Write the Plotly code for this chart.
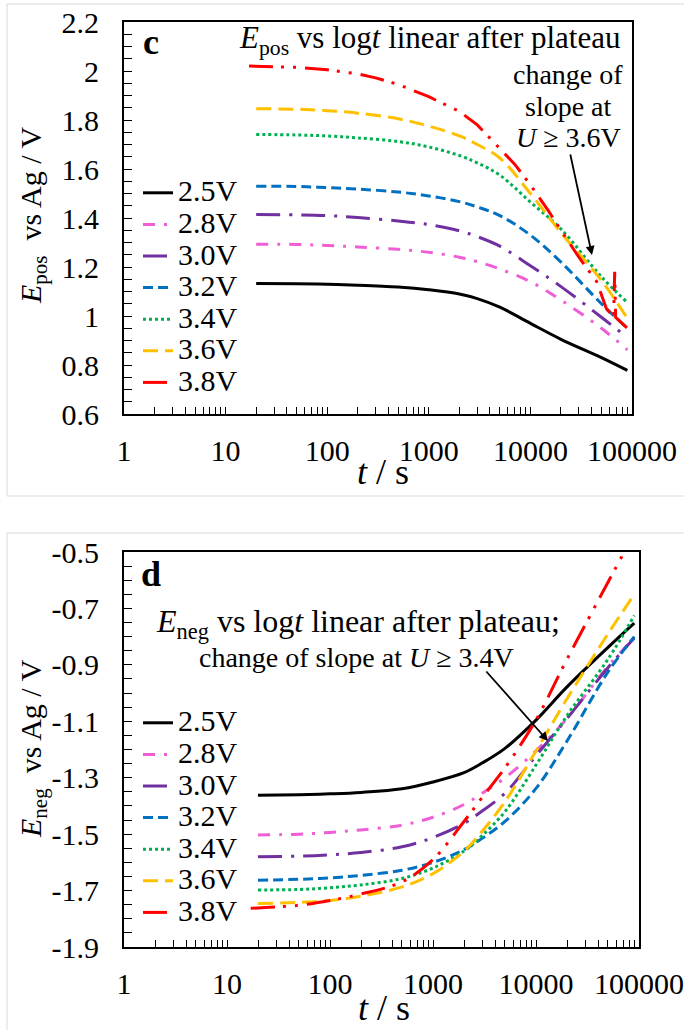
import plotly.graph_objects as go

W, H = 684, 1030
FONT = "Liberation Serif"

# ---------------- data ----------------
labels = ["2.5V", "2.8V", "3.0V", "3.2V", "3.4V", "3.6V", "3.8V"]
colors = ["#000000", "#EE5FD7", "#7030A0", "#0070C0", "#00B050", "#FFC000", "#FF0000"]
dashes = ["solid", "12px,9px,3px,9px", "24px,9px,3px,9px", "10px,5px",
          "3px,3px", "15px,7px", "24px,8px,3px,9px,3px,9px"]

t_std = [20, 50, 100, 200, 500, 1000, 2000, 3000, 5000, 10000, 20000, 50000, 90000]

# panel c : E_pos vs Ag / V
c_25 = [1.133, 1.132, 1.130, 1.126, 1.118, 1.107, 1.090, 1.071, 1.036, 0.970, 0.905, 0.830, 0.778]
c_28 = [1.293, 1.292, 1.288, 1.282, 1.272, 1.260, 1.240, 1.222, 1.192, 1.140, 1.065, 0.950, 0.862]
c_30 = [1.414, 1.413, 1.410, 1.402, 1.388, 1.373, 1.348, 1.324, 1.285, 1.205, 1.120, 0.995, 0.912]
c_32 = [1.530, 1.529, 1.524, 1.518, 1.506, 1.490, 1.467, 1.445, 1.410, 1.330, 1.220, 1.050, 0.950]
c_34 = [1.741, 1.739, 1.735, 1.727, 1.712, 1.690, 1.655, 1.625, 1.575, 1.465, 1.355, 1.160, 1.055]
c_36 = [1.846, 1.844, 1.838, 1.828, 1.805, 1.775, 1.735, 1.700, 1.645, 1.500, 1.340, 1.145, 0.990]
c_38_t = [17, 50, 100, 200, 300, 500, 1000, 2000, 3000, 5000, 7000, 10000, 15000,
          20000, 30000, 45000, 56000, 66000, 67500, 69000, 90000]
c_38 = [2.020, 2.015, 2.005, 1.988, 1.972, 1.945, 1.895, 1.835, 1.780, 1.685, 1.620,
        1.535, 1.430, 1.350, 1.240, 1.140, 1.030, 0.995, 1.180, 0.995, 0.950]

# panel d : E_neg vs Ag / V
d_25 = [-1.362, -1.360, -1.357, -1.352, -1.339, -1.315, -1.282, -1.248, -1.196, -1.096, -0.978, -0.838, -0.752]
d_28 = [-1.503, -1.500, -1.494, -1.485, -1.468, -1.440, -1.395, -1.355, -1.300, -1.205, -1.090, -0.905, -0.805]
d_30 = [-1.580, -1.578, -1.573, -1.565, -1.545, -1.512, -1.462, -1.418, -1.355, -1.222, -1.090, -0.910, -0.805]
d_32 = [-1.663, -1.660, -1.655, -1.646, -1.628, -1.600, -1.555, -1.515, -1.455, -1.338, -1.170, -0.925, -0.800]
d_34 = [-1.698, -1.696, -1.690, -1.680, -1.657, -1.620, -1.560, -1.505, -1.420, -1.255, -1.080, -0.880, -0.725]
d_36 = [-1.746, -1.742, -1.735, -1.720, -1.687, -1.640, -1.560, -1.490, -1.385, -1.205, -1.020, -0.790, -0.650]
d_38_t = [17, 50, 100, 200, 500, 1000, 2000, 3000, 5000, 10000, 20000, 50000, 70000, 90000]
d_38 = [-1.763, -1.752, -1.735, -1.712, -1.669, -1.590, -1.455, -1.370, -1.265, -1.095, -0.880, -0.607, -0.508, -0.435]

x_tickvals = [1, 10, 100, 1000, 10000, 100000]
x_ticktext = ["1", "10", "100", "1000", "10000", "100000"]
x_minor = [m * 10 ** d for d in range(5) for m in range(2, 10)]

c_yticks = [0.6, 0.8, 1.0, 1.2, 1.4, 1.6, 1.8, 2.0, 2.2]
c_yticktext = ["0.6", "0.8", "1", "1.2", "1.4", "1.6", "1.8", "2", "2.2"]
d_yticks = [-1.9, -1.7, -1.5, -1.3, -1.1, -0.9, -0.7, -0.5]
d_yticktext = ["-1.9", "-1.7", "-1.5", "-1.3", "-1.1", "-0.9", "-0.7", "-0.5"]

c_series = [(t_std, c_25), (t_std, c_28), (t_std, c_30), (t_std, c_32),
            (t_std, c_34), (t_std, c_36), (c_38_t, c_38)]
d_series = [(t_std, d_25), (t_std, d_28), (t_std, d_30), (t_std, d_32),
            (t_std, d_34), (t_std, d_36), (d_38_t, d_38)]

# ---------------- figure ----------------
fig = go.Figure()


def px_x(p):
    return p / W


def px_y(p):
    return 1 - p / H


for i, (tx, ey) in enumerate(c_series):
    fig.add_trace(go.Scatter(
        x=tx, y=ey, mode="lines", xaxis="x", yaxis="y", legend="legend",
        name='<span style="font-size:30px">%s</span>' % labels[i],
        line=dict(color=colors[i], width=3, dash=dashes[i],
                  shape="linear" if i == 6 else "spline", smoothing=1.0),
        showlegend=True))

for i, (tx, ey) in enumerate(d_series):
    fig.add_trace(go.Scatter(
        x=tx, y=ey, mode="lines", xaxis="x2", yaxis="y2", legend="legend2",
        name='<span style="font-size:30px">%s</span>' % labels[i],
        line=dict(color=colors[i], width=3, dash=dashes[i], shape="spline", smoothing=1.0),
        showlegend=True))

tickfont = dict(family=FONT, size=30, color="black")


def xaxis_def(domain, anchor):
    return dict(domain=domain, anchor=anchor, type="log", range=[0, 5], automargin=False,
                tickmode="array", tickvals=x_tickvals, ticktext=x_ticktext,
                ticks="inside", ticklen=7, tickwidth=1.3, tickcolor="black",
                minor=dict(tickmode="array", tickvals=x_minor, ticks="inside",
                           ticklen=7, tickwidth=1.3, tickcolor="black", showgrid=False),
                showline=True, mirror=True, linecolor="black", linewidth=2,
                showgrid=False, zeroline=False, tickfont=tickfont,
                ticklabelstandoff=9)


def yaxis_def(domain, anchor, rng, tv, tt, t0):
    return dict(domain=domain, anchor=anchor, range=rng, automargin=False,
                tickmode="array", tickvals=tv, ticktext=tt,
                ticks="inside", ticklen=8, tickwidth=1.3, tickcolor="black",
                minor=dict(tickmode="linear", tick0=t0, dtick=0.05, ticks="inside",
                           ticklen=8, tickwidth=1.3, tickcolor="black", showgrid=False),
                showline=True, mirror=True, linecolor="black", linewidth=2,
                showgrid=False, zeroline=False, tickfont=tickfont,
                ticklabelstandoff=17)


fig.update_layout(
    width=W, height=H,
    margin=dict(l=0, r=0, t=0, b=0, autoexpand=False),
    paper_bgcolor="white", plot_bgcolor="white",
    font=dict(family=FONT, color="black"),
    xaxis=xaxis_def([px_x(124), px_x(632)], "y"),
    yaxis=yaxis_def([px_y(414), px_y(22)], "x", [0.6, 2.2], c_yticks, c_yticktext, 0.6),
    xaxis2=xaxis_def([px_x(124), px_x(639)], "y2"),
    yaxis2=yaxis_def([px_y(947), px_y(552)], "x2", [-1.9, -0.5], d_yticks, d_yticktext, -1.9),
    legend=dict(x=px_x(138), xanchor="left", y=px_y(172), yanchor="top",
                bgcolor="rgba(0,0,0,0)", borderwidth=0, tracegroupgap=0,
                font=dict(family=FONT, size=22, color="black"), itemwidth=30),
    legend2=dict(x=px_x(138), xanchor="left", y=px_y(702), yanchor="top",
                 bgcolor="rgba(0,0,0,0)", borderwidth=0, tracegroupgap=0,
                 font=dict(family=FONT, size=22, color="black"), itemwidth=30),
    showlegend=True,
)

# panel borders (light grey frames)
fig.add_shape(type="rect", xref="paper", yref="paper",
              x0=px_x(7), x1=px_x(700), y0=px_y(496), y1=px_y(4),
              line=dict(color="#D9D9D9", width=1), layer="below")
fig.add_shape(type="rect", xref="paper", yref="paper",
              x0=px_x(7), x1=px_x(700), y0=px_y(1040), y1=px_y(533),
              line=dict(color="#D9D9D9", width=1), layer="below")


def it(s, size):
    """italic run with an explicit size"""
    return '<span style="font-style:italic;font-size:%dpx">%s</span>' % (size, s)


def note(text, x, y, size, xanchor="center", bold=False, angle=0):
    if bold:
        text = "<b>%s</b>" % text
    fig.add_annotation(text='<span style="font-size:%dpx">%s</span>' % (size, text),
                       xref="paper", yref="paper", x=px_x(x), y=px_y(y),
                       xanchor=xanchor, yanchor="middle", showarrow=False,
                       textangle=angle,
                       font=dict(family=FONT, size=size, color="black"))


# axis titles
note(it("t", 36) + " / s", 383, 472, 36)
note(it("t", 36) + " / s", 384, 1008, 36)
note(it("E", 30) + "<sub>pos</sub>  vs Ag / V", 33, 216, 30, angle=-90)
note(it("E", 30) + "<sub>neg</sub>  vs Ag / V", 33, 749, 30, angle=-90)

# panel c texts
note("c", 151, 42, 36, bold=True)
note(it("E", 31) + "<sub>pos</sub> vs log" + it("t", 31) + " linear after plateau",
     623, 40, 31, xanchor="right")
note("change of", 568, 74, 28)
note("slope at", 568, 106, 28)
note(it("U", 28) + " ≥ 3.6V", 568, 138, 28)
fig.add_annotation(xref="paper", yref="paper", x=px_x(592), y=px_y(255),
                   ax=-22, ay=-102, text="", showarrow=True, arrowhead=2,
                   arrowsize=1, arrowwidth=1.8, arrowcolor="black")

# panel d texts
note("d", 151, 574, 36, bold=True)
note(it("E", 32) + "<sub>neg</sub> vs log" + it("t", 32) + " linear after plateau;",
     358, 623, 32)
note("change of slope at " + it("U", 28) + " ≥ 3.4V", 357, 657, 28)
fig.add_annotation(xref="paper", yref="paper", x=px_x(548), y=px_y(741),
                   ax=-63, ay=-71, text="", showarrow=True, arrowhead=2,
                   arrowsize=1, arrowwidth=1.8, arrowcolor="black")

fig.write_html("out.html")
